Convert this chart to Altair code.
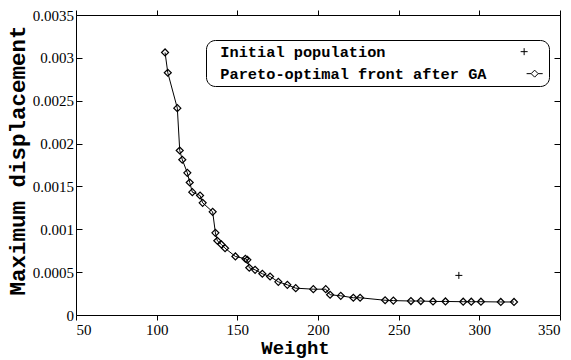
import altair as alt
import pandas as pd

# Pareto-optimal front after GA
front_weight = [105.2, 106.9, 112.8, 114.3, 115.9, 119.0, 120.5, 122.1, 126.9, 128.5,
                134.7, 136.4, 137.6, 140.1, 142.4, 148.8, 155.0, 156.2, 157.4, 161.0,
                165.5, 170.3, 175.4, 181.0, 186.2, 197.1, 204.8, 207.5, 214.1, 221.9,
                226.1, 241.6, 246.7, 257.6, 263.7, 271.3, 279.0, 290.0, 295.0, 301.0,
                313.3, 321.5]
front_disp = [0.003063, 0.002826, 0.002413, 0.001919, 0.001811, 0.001659, 0.001546, 0.001433,
              0.001394, 0.001309, 0.001204, 0.000959, 0.000866, 0.000823, 0.000779, 0.000683,
              0.000656, 0.000644, 0.000551, 0.000527, 0.000481, 0.000449, 0.000387, 0.000352,
              0.000313, 0.000301, 0.000301, 0.000236, 0.000224, 0.000201, 0.000201, 0.000172,
              0.000168, 0.000163, 0.000163, 0.000158, 0.000158, 0.000155, 0.000155, 0.000155,
              0.000152, 0.000152]

# Initial population (only visible point)
init_weight = [287.3]
init_disp = [0.000462]

legend_labels = ["Initial population", "Pareto-optimal front after GA"]
x_ticks = [50, 100, 150, 200, 250, 300, 350]
y_ticks = [0, 0.0005, 0.001, 0.0015, 0.002, 0.0025, 0.003, 0.0035]

front = pd.DataFrame({"Weight": front_weight, "Disp": front_disp})
init = pd.DataFrame({"Weight": init_weight, "Disp": init_disp})
leg = pd.DataFrame({"series": legend_labels})

xs = alt.Scale(domain=[50, 350], nice=False, zero=False)
ys = alt.Scale(domain=[0, 0.0035], nice=False)

MONO = "Liberation Mono"
SERIF = "Liberation Serif"

bottom_axis = alt.Axis(values=x_ticks, format="d", offset=0, tickSize=5, domain=False,
                       grid=False, ticks=True, tickWidth=1, tickColor="black",
                       labelPadding=2, labelFont=SERIF, labelFontSize=15, labelColor="black",
                       title="Weight", titleFont=MONO, titleFontWeight="bold",
                       titleFontSize=19, titleColor="black", titleX=219, titleY=32,
                       titleBaseline="middle", titleAlign="center")
left_axis = alt.Axis(values=y_ticks, format="~g", offset=-6, tickSize=6, domain=False, grid=False,
                     ticks=True, tickWidth=1, tickColor="black",
                     labelPadding=2.5, labelFont=SERIF, labelFontSize=15, labelColor="black",
                     title="Maximum displacement", titleFont=MONO,
                     titleFontWeight="bold", titleFontSize=22.5, titleColor="black",
                     titleX=-65, titleY=145, titleAngle=270, titleBaseline="middle",
                     titleAlign="center")
top_axis = alt.Axis(orient="top", values=x_ticks, offset=0, tickSize=5, domain=True, grid=False,
                    ticks=True, tickWidth=1, labels=False, title=None, tickColor="black",
                    domainColor="black")
right_axis = alt.Axis(orient="right", offset=-6, tickSize=6, domain=False,
                      ticks=True, tickWidth=1, grid=False, labels=False, title=None,
                      tickColor="black")

line = alt.Chart(front).mark_line(color="black", strokeWidth=1).encode(
    x=alt.X("Weight:Q", scale=xs, axis=bottom_axis),
    y=alt.Y("Disp:Q", scale=ys, axis=left_axis),
)

pts = alt.Chart(front).mark_point(shape="diamond", size=49, filled=False, color="black",
                                  strokeWidth=1.2, opacity=1).encode(
    x=alt.X("Weight:Q", scale=xs, axis=None),
    y=alt.Y("Disp:Q", scale=ys, axis=None),
)

plus_path = "M-1,0L1,0M0,-1L0,1"
cross = alt.Chart(init).mark_point(shape=plus_path, size=49, filled=False, color="black",
                                   strokeWidth=1, opacity=1).encode(
    x=alt.X("Weight:Q", scale=xs, axis=top_axis),
    y=alt.Y("Disp:Q", scale=ys, axis=right_axis),
)

legend_plus = "M-4,0L-2,0M-3,-1L-3,1"
legend_line_diamond = "M-2.3,0L-1,0M1,0L2.3,0M-1,0L0,-1L1,0L0,1Z"

legend_layer = alt.Chart(leg).transform_filter("false").mark_point(
    filled=False, color="black", strokeWidth=1, opacity=1
).encode(
    shape=alt.Shape("series:N",
                    scale=alt.Scale(domain=legend_labels, range=[legend_plus, legend_line_diamond]),
                    legend=alt.Legend(orient="none", legendX=130, legendY=25, title=None,
                                      strokeColor="black", cornerRadius=9, fillColor="white",
                                      padding=4, rowPadding=6, symbolSize=49,
                                      symbolOffset=317, labelOffset={"expr": "-322"},
                                      labelLimit=400,
                                      labelFont=MONO, labelFontWeight="bold", labelFontSize=15.3,
                                      labelColor="black", symbolStrokeColor="black",
                                      symbolStrokeWidth=1)),
)

chart = alt.layer(line, pts, cross, legend_layer).resolve_axis(
    x="independent", y="independent"
).properties(
    width=484, height=300,
    autosize=alt.AutoSizeParams(type="none"),
    padding={"left": 76, "top": 15, "right": 11, "bottom": 45},
    background="white",
).configure_view(stroke="black", strokeWidth=1)

chart.save("out.html", embed_options={"renderer": "svg", "actions": False})
